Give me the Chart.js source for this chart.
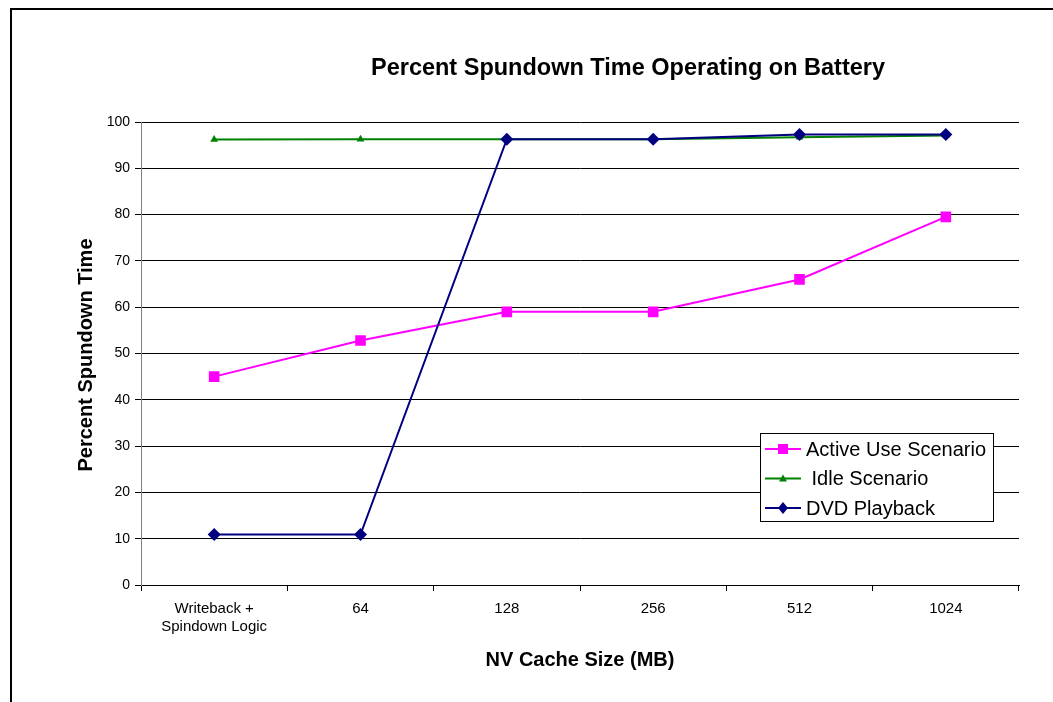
<!DOCTYPE html>
<html>
<head>
<meta charset="utf-8">
<script src="https://cdn.jsdelivr.net/npm/chart.js@4/dist/chart.umd.min.js"></script>
<style>
  body { margin: 0; background: #fff; }
  canvas { display: block; }
</style>
</head>
<body>
<canvas id="chart" width="1053" height="702"></canvas>
<script>
const categories = [['Writeback +', 'Spindown Logic'], '64', '128', '256', '512', '1024']
const activeUse = [45.0, 52.8, 59.0, 59.0, 66.0, 79.5]
const idle = [96.2, 96.3, 96.3, 96.3, 96.7, 97.1]
const dvd = [10.9, 10.9, 96.3, 96.3, 97.3, 97.3]
const seriesNames = ['Active Use Scenario', ' Idle Scenario', 'DVD Playback']
const seriesColors = ['#ff00ff', '#008000', '#000080']
const seriesMarkers = ['rect', 'triangle', 'rectRot']

const FONT = 'Liberation Sans, Arial, sans-serif'

// marker drawing for the boxed legend
function marker(ctx, style, x, y, color) {
    ctx.fillStyle = color
    ctx.beginPath()
    if (style == 'rect') {
        ctx.rect(x - 5, y - 5, 10, 10)
    } else if (style == 'triangle') {
        ctx.moveTo(x, y - 4)
        ctx.lineTo(x + 4, y + 3)
        ctx.lineTo(x - 4, y + 3)
        ctx.closePath()
    } else {
        ctx.moveTo(x, y - 6)
        ctx.lineTo(x + 5, y)
        ctx.lineTo(x, y + 6)
        ctx.lineTo(x - 5, y)
        ctx.closePath()
    }
    ctx.fill()
}

const decorations = {
    id: 'decorations',
    afterDraw(chart) {
        const ctx = chart.ctx
        const area = chart.chartArea
        ctx.save()

        // outer frame
        ctx.strokeStyle = '#000'
        ctx.lineWidth = 2
        ctx.strokeRect(11, 9, 1100, 800)

        // title
        ctx.fillStyle = '#000'
        ctx.textAlign = 'center'
        ctx.textBaseline = 'middle'
        ctx.font = 'bold 23.5px ' + FONT
        ctx.fillText('Percent Spundown Time Operating on Battery', 628, 69)

        // axis titles
        ctx.font = 'bold 20px ' + FONT
        ctx.fillText('NV Cache Size (MB)', (area.left + area.right) / 2, 660)
        ctx.save()
        ctx.translate(86, 355)
        ctx.rotate(-Math.PI / 2)
        ctx.fillText('Percent Spundown Time', 0, 0)
        ctx.restore()

        // legend box
        const bx = 760, by = 433, bw = 233, bh = 88
        ctx.fillStyle = '#fff'
        ctx.fillRect(bx, by, bw, bh)
        ctx.strokeStyle = '#000'
        ctx.lineWidth = 1
        ctx.strokeRect(bx + 0.5, by + 0.5, bw, bh)
        ctx.font = '20px ' + FONT
        ctx.textAlign = 'left'
        seriesNames.forEach((name, i) => {
            const y = 449 + i * 29.5
            ctx.strokeStyle = seriesColors[i]
            ctx.lineWidth = 2
            ctx.beginPath()
            ctx.moveTo(765, y)
            ctx.lineTo(801, y)
            ctx.stroke()
            marker(ctx, seriesMarkers[i], 783, y, seriesColors[i])
            ctx.fillStyle = '#000'
            ctx.fillText(name, 806, y + 1)
        })
        ctx.restore()
    }
}

const makeSet = (i, data, radius, order) => ({
    label: seriesNames[i],
    data: data,
    borderColor: seriesColors[i],
    backgroundColor: seriesColors[i],
    pointStyle: seriesMarkers[i],
    pointRadius: radius,
    pointHoverRadius: radius,
    pointBorderWidth: 0,
    borderWidth: 2,
    tension: 0,
    order: order
})

new Chart(document.getElementById('chart'), {
    type: 'line',
    data: {
        labels: categories,
        datasets: [
            makeSet(0, activeUse, 7.5, 1),
            makeSet(1, idle, 4.5, 2),
            makeSet(2, dvd, 6.5, 0)
        ]
    },
    options: {
        responsive: false,
        animation: false,
        layout: { padding: { top: 122, right: 34, left: 0, bottom: 0 } },
        plugins: {
            legend: { display: false },
            title: { display: false },
            tooltip: { enabled: false }
        },
        scales: {
            x: {
                type: 'category',
                offset: true,
                grid: { offset: true, drawOnChartArea: false, tickLength: 6, color: '#000' },
                border: { color: '#000', width: 1 },
                ticks: { color: '#000', font: { family: FONT, size: 15, lineHeight: 1.2 }, padding: 9, maxRotation: 0, autoSkip: false },
                afterFit: (s) => { s.height = 117 }
            },
            y: {
                min: 0,
                max: 100,
                grid: { color: '#000', tickLength: 6 },
                border: { color: '#808080', width: 1 },
                ticks: { stepSize: 10, color: '#000', font: { family: FONT, size: 14 }, padding: 5 },
                afterFit: (s) => { s.width = 141 }
            }
        }
    },
    plugins: [decorations]
})
</script>
</body>
</html>
